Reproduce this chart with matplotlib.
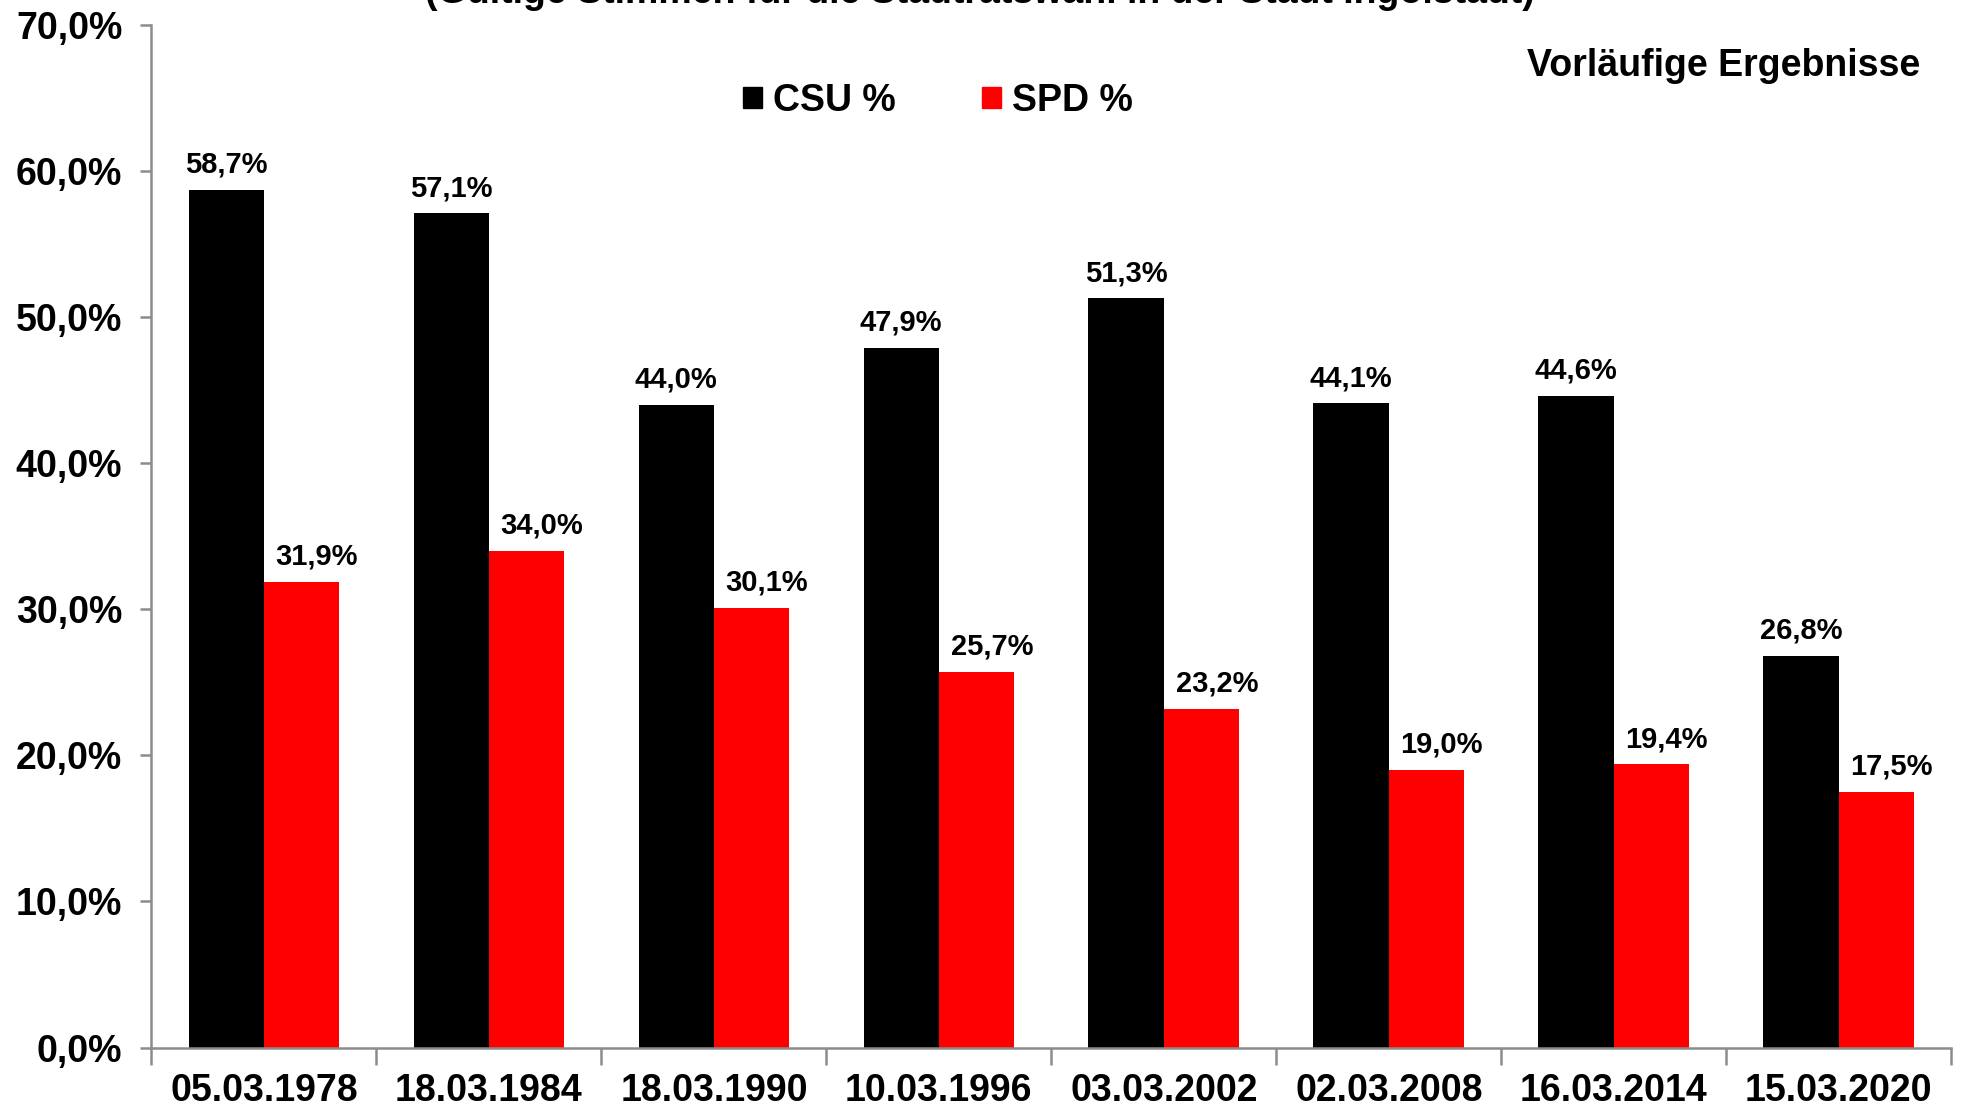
import numpy as np
import matplotlib.pyplot as plt
from matplotlib.patches import Patch

plt.rcParams['font.family'] = ['Liberation Sans', 'DejaVu Sans']
plt.rcParams['font.weight'] = 'bold'

dates = ["05.03.1978", "18.03.1984", "18.03.1990", "10.03.1996",
         "03.03.2002", "02.03.2008", "16.03.2014", "15.03.2020"]
csu = [58.7, 57.1, 44.0, 47.9, 51.3, 44.1, 44.6, 26.8]
spd = [31.9, 34.0, 30.1, 25.7, 23.2, 19.0, 19.4, 17.5]

title = "(Gültige Stimmen für die Stadtratswahl in der Stadt Ingolstadt)"
note = "Vorläufige Ergebnisse"

GREY = "#8c8c8c"
RED = "#ff0000"


def pct(v):
    return f"{v:.1f}%".replace(".", ",")


def main():
    fig = plt.figure(figsize=(19.67, 11.12), dpi=100)
    ax = fig.add_axes([0.077, 0.058, 0.915, 0.9195])

    x = np.arange(len(dates))
    w = 0.335
    ax.bar(x - w / 2, csu, w, color="black", label="CSU %")
    ax.bar(x + w / 2, spd, w, color=RED, label="SPD %")

    for xi, v in zip(x, csu):
        ax.annotate(pct(v), (xi - w / 2, v), xytext=(0, 8), textcoords="offset points",
                    ha="center", va="bottom", fontsize=21, fontweight="bold")
    for xi, v in zip(x, spd):
        ax.annotate(pct(v), (xi + w / 2, v), xytext=(11, 8), textcoords="offset points",
                    ha="center", va="bottom", fontsize=21, fontweight="bold")

    ax.set_xlim(-0.5, len(dates) - 0.5)
    ax.set_ylim(0, 70)
    ax.set_yticks(np.arange(0, 71, 10))
    ax.set_yticklabels([pct(t) for t in np.arange(0, 71, 10)])

    ax.set_xticks(np.arange(-0.5, len(dates), 1.0))
    ax.set_xticklabels([])
    ax.set_xticks(x, minor=True)
    ax.set_xticklabels(dates, minor=True)

    for s in ("top", "right"):
        ax.spines[s].set_visible(False)
    for s in ("left", "bottom"):
        ax.spines[s].set_color(GREY)
        ax.spines[s].set_linewidth(1.8)

    ax.tick_params(axis="y", which="major", direction="out", length=8, width=1.8,
                   color=GREY, labelsize=27, pad=13)
    ax.tick_params(axis="x", which="major", direction="out", length=12, width=1.8,
                   color=GREY)
    ax.tick_params(axis="x", which="minor", length=0, labelsize=27, pad=18)
    for lab in ax.get_yticklabels() + ax.get_xticklabels(minor=True):
        lab.set_fontweight("bold")

    handles = [Patch(color="black", label="CSU %"), Patch(color=RED, label="SPD %")]
    ax.legend(handles=handles, loc="center", bbox_to_anchor=(0.437, 0.926), ncol=2,
              frameon=False, handlelength=0.5, handleheight=0.5,
              handletextpad=0.3, columnspacing=2.3, prop={"weight": "bold", "size": 27})

    fig.text(1920 / 1967, 1 - 66 / 1112, note, ha="right", va="center",
             fontsize=27, fontweight="bold")
    fig.text(980 / 1967, 1 - 3 / 1112, title, ha="center", va="baseline",
             fontsize=27, fontweight="bold")

    fig.savefig("out.png", dpi=100)


if __name__ == "__main__":
    main()
